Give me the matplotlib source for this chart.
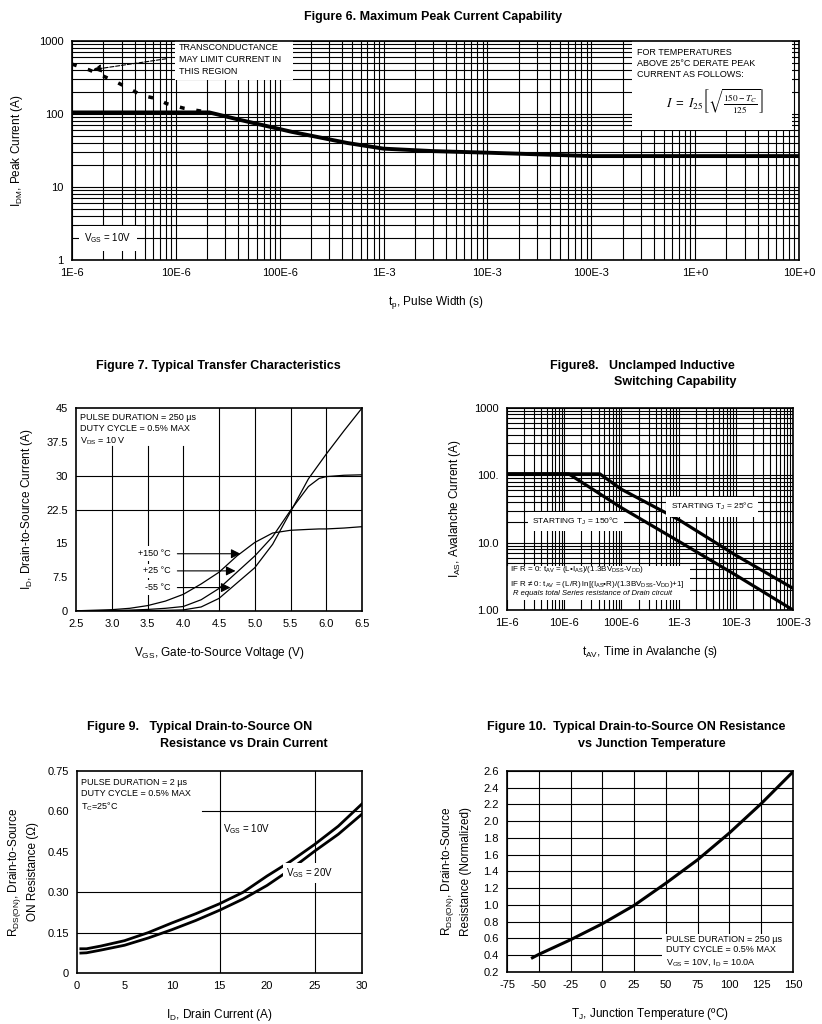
import matplotlib.pyplot as plt
from matplotlib.patches import Rectangle
from matplotlib.ticker import NullFormatter

plt.rcParams["font.family"] = ["Liberation Sans", "DejaVu Sans"]
plt.rcParams["mathtext.fontset"] = "stix"
plt.rcParams["mathtext.default"] = "regular"
plt.rcParams["axes.unicode_minus"] = False

# Figure 6 - maximum peak current
pulse_width = [1e-6, 2.1e-5, 4e-5, 1.3e-4, 4.5e-4, 1e-3, 3e-3, 1e-2, 1e-1, 10]
peak_current = [105, 105, 84, 57, 40, 33.5, 31, 29.5, 26.5, 26.5]
gm_width = [1.0e-6, 1.46e-6, 2.56e-6, 3.56e-6, 4.7e-6, 6.4e-6, 8.1e-6, 1.19e-5, 1.65e-5, 2.1e-5]
gm_current = [482, 402, 283, 222, 180, 163, 139, 120, 111, 105]
fig6_xticks = [1e-6, 1e-5, 1e-4, 1e-3, 1e-2, 1e-1, 1, 10]
fig6_xlabels = ["1E-6", "10E-6", "100E-6", "1E-3", "10E-3", "100E-3", "1E+0", "10E+0"]
fig6_yticks = [1, 10, 100, 1000]
fig6_ylabels = ["1", "10", "100", "1000"]

# Figure 7 - transfer characteristics
vgs = [2.5, 3.0, 3.25, 3.5, 3.75, 4.0, 4.25, 4.5, 4.75, 5.0, 5.25, 5.5, 5.75, 5.9, 6.0, 6.25, 6.5]
id_150 = [0.05, 0.3, 0.6, 1.2, 2.2, 3.7, 6.0, 8.6, 12.2, 15.2, 17.3, 17.9, 18.1, 18.2, 18.2, 18.4, 18.7]
id_25 = [0.0, 0.1, 0.2, 0.35, 0.6, 1.0, 2.5, 5.0, 8.6, 12.2, 16.5, 22.3, 27.6, 29.4, 29.8, 30.1, 30.2]
id_m55 = [0.0, 0.05, 0.07, 0.1, 0.15, 0.25, 0.9, 2.8, 6.2, 9.6, 14.8, 22.0, 29.3, 32.6, 34.8, 40.0, 45.0]
temp_labels = ["+150 \u00b0C", "+25 \u00b0C", "-55 \u00b0C"]
fig7_xticks = [2.5, 3.0, 3.5, 4.0, 4.5, 5.0, 5.5, 6.0, 6.5]
fig7_yticks = [0, 7.5, 15, 22.5, 30, 37.5, 45]
fig7_ylabels = ["0", "7.5", "15", "22.5", "30", "37.5", "45"]

# Figure 8 - unclamped inductive switching
tav_25 = [1e-6, 4.2e-5, 1e-4, 1e-3, 1e-2, 1e-1]
ias_25 = [105, 105, 62, 22, 6.5, 2.1]
tav_150 = [1e-6, 1.2e-5, 1e-4, 1e-3, 1e-2, 1e-1]
ias_150 = [105, 105, 33, 10.5, 3.3, 1.0]
fig8_xticks = [1e-6, 1e-5, 1e-4, 1e-3, 1e-2, 1e-1]
fig8_xlabels = ["1E-6", "10E-6", "100E-6", "1E-3", "10E-3", "100E-3"]
fig8_yticks = [1, 10, 100, 1000]
fig8_ylabels = ["1.00", "10.0", "100.", "1000"]

# Figure 9 - on resistance vs drain current
drain_current = [0.4, 1, 2.5, 5, 7.5, 10, 12.5, 15, 17.5, 20, 22.5, 25, 27.5, 30]
rds_10v = [0.090, 0.090, 0.100, 0.120, 0.150, 0.186, 0.220, 0.257, 0.300, 0.360, 0.415, 0.477, 0.545, 0.628]
rds_20v = [0.074, 0.075, 0.085, 0.103, 0.130, 0.161, 0.195, 0.233, 0.275, 0.325, 0.385, 0.452, 0.515, 0.590]
fig9_yticks = [0, 0.15, 0.30, 0.45, 0.60, 0.75]
fig9_ylabels = ["0", "0.15", "0.30", "0.45", "0.60", "0.75"]

# Figure 10 - on resistance vs junction temperature
tj = [-55, -50, -25, 0, 25, 50, 75, 100, 125, 150]
rds_norm = [0.37, 0.41, 0.585, 0.776, 0.995, 1.26, 1.54, 1.86, 2.21, 2.59]
fig10_xticks = [-75, -50, -25, 0, 25, 50, 75, 100, 125, 150]
fig10_yticks = [0.2, 0.4, 0.6, 0.8, 1.0, 1.2, 1.4, 1.6, 1.8, 2.0, 2.2, 2.4, 2.6]

GRID = dict(color="black", lw=0.8)
WHITE = dict(facecolor="white", edgecolor="none", pad=2)


def style_axes(ax):
    for spine in ax.spines.values():
        spine.set_linewidth(1.2)
    ax.tick_params(which="both", length=0, labelsize=8, pad=6)


def white_box(ax, x, y, w, h):
    ax.add_patch(Rectangle((x, y), w, h, transform=ax.transAxes,
                           facecolor="white", edgecolor="none", zorder=1.8))


fig = plt.figure(figsize=(8.22, 10.24), dpi=100)

# ---- Figure 6
ax6 = fig.add_axes([0.0876, 0.7461, 0.8844, 0.2139])
ax6.set_xscale("log")
ax6.set_yscale("log")
ax6.set_xlim(1e-6, 10)
ax6.set_ylim(1, 1000)
ax6.grid(True, which="both", **GRID)
ax6.set_xticks(fig6_xticks, fig6_xlabels)
ax6.set_yticks(fig6_yticks, fig6_ylabels)
ax6.xaxis.set_minor_formatter(NullFormatter())
ax6.yaxis.set_minor_formatter(NullFormatter())
style_axes(ax6)
ax6.plot(gm_width, gm_current, color="black", lw=2.5, ls=(0, (1.4, 3.4)), zorder=3)
ax6.plot(pulse_width, peak_current, color="black", lw=2.8, zorder=3)
white_box(ax6, 0.142, 0.822, 0.162, 0.178)
white_box(ax6, 0.770, 0.594, 0.220, 0.406)
ax6.text(0.147, 0.99, "TRANSCONDUCTANCE\nMAY LIMIT CURRENT IN\nTHIS REGION",
         transform=ax6.transAxes, fontsize=6.5, va="top", linespacing=1.4)
ax6.text(0.777, 0.968, "FOR TEMPERATURES\nABOVE 25\u00b0C DERATE PEAK\nCURRENT AS FOLLOWS:",
         transform=ax6.transAxes, fontsize=6.5, va="top", linespacing=1.3)
ax6.text(0.885, 0.723,
         r"$\mathit{I}\ =\ \mathit{I}_{\mathrm{25}}\left[\sqrt{\frac{\mathrm{150}-\mathit{T_C}}{\mathrm{125}}}\right]$",
         transform=ax6.transAxes, fontsize=9.5, ha="center", va="center")
ax6.annotate("", xy=(1.5e-6, 400), xytext=(8.6e-6, 578),
             arrowprops=dict(arrowstyle="-|>", color="black", lw=0.8, ls="--",
                             mutation_scale=12))
ax6.text(0.017, 0.1, "V$_{GS}$ = 10V", transform=ax6.transAxes, fontsize=7,
         va="center", bbox=dict(facecolor="white", edgecolor="none", pad=4))
ax6.set_xlabel("t$_p$, Pulse Width (s)", fontsize=8.5, labelpad=11)
ax6.set_ylabel("I$_{DM}$, Peak Current (A)", fontsize=8.5, labelpad=10)
fig.text(0.527, 0.983, "Figure 6. Maximum Peak Current Capability",
         fontsize=9, fontweight="bold", ha="center", va="center")

# ---- Figure 7
ax7 = fig.add_axes([0.0925, 0.4033, 0.3479, 0.1982])
ax7.set_xlim(2.5, 6.5)
ax7.set_ylim(0, 45)
ax7.set_xticks(fig7_xticks, [f"{v:.1f}" for v in fig7_xticks])
ax7.set_yticks(fig7_yticks, fig7_ylabels)
style_axes(ax7)
for v in [3.0, 3.5, 4.0]:
    ax7.axvline(v, ymax=36.5 / 45, zorder=1, **GRID)
for v in [4.5, 5.0, 5.5, 6.0]:
    ax7.axvline(v, zorder=1, **GRID)
for v in [22.5, 30]:
    ax7.axhline(v, zorder=1, **GRID)
ax7.plot(vgs, id_150, color="black", lw=0.9)
ax7.plot(vgs, id_25, color="black", lw=0.9)
ax7.plot(vgs, id_m55, color="black", lw=0.9)
ax7.text(0.015, 0.975, "PULSE DURATION = 250 \u00b5s\nDUTY CYCLE = 0.5% MAX\nV$_{DS}$ = 10 V",
         transform=ax7.transAxes, fontsize=6.5, va="top", linespacing=1.3)
for label, y, tip in zip(temp_labels, [12.7, 8.9, 5.2], [4.80, 4.73, 4.66]):
    ax7.annotate(label, xy=(tip, y), xytext=(3.82, y), fontsize=6.5, ha="right",
                 va="center", bbox=WHITE, zorder=4,
                 arrowprops=dict(arrowstyle="-|>", color="black", lw=0.8,
                                 mutation_scale=14, shrinkA=3, shrinkB=0))
ax7.set_xlabel("V$_{GS}$, Gate-to-Source Voltage (V)", fontsize=8.5, labelpad=11)
ax7.set_ylabel("I$_D$, Drain-to-Source Current (A)", fontsize=8.5, labelpad=8)
fig.text(0.266, 0.6426, "Figure 7. Typical Transfer Characteristics",
         fontsize=9, fontweight="bold", ha="center", va="center")

# ---- Figure 8
ax8 = fig.add_axes([0.6168, 0.4043, 0.3479, 0.1973])
ax8.set_xscale("log")
ax8.set_yscale("log")
ax8.set_xlim(1e-6, 1e-1)
ax8.set_ylim(1, 1000)
ax8.grid(True, which="both", **GRID)
ax8.set_xticks(fig8_xticks, fig8_xlabels)
ax8.set_yticks(fig8_yticks, fig8_ylabels)
ax8.xaxis.set_minor_formatter(NullFormatter())
ax8.yaxis.set_minor_formatter(NullFormatter())
style_axes(ax8)
ax8.plot(tav_25, ias_25, color="black", lw=2.3, zorder=3)
ax8.plot(tav_150, ias_150, color="black", lw=2.3, zorder=3)
ax8.text(0.717, 0.511, "STARTING T$_J$ = 25\u00b0C", transform=ax8.transAxes,
         fontsize=6, ha="center", va="center", bbox=dict(facecolor="white", edgecolor="none", pad=3))
ax8.text(0.242, 0.437, "STARTING T$_J$ = 150\u00b0C", transform=ax8.transAxes,
         fontsize=6, ha="center", va="center", bbox=dict(facecolor="white", edgecolor="none", pad=3))
white_box(ax8, 0.0, 0.05, 0.64, 0.17)
ax8.text(0.01, 0.165,
         "IF R = 0: t$_{AV}$ = (L\u2022I$_{AS}$)/(1.3BV$_{DSS}$-V$_{DD}$)\n"
         "IF R \u2260 0: t$_{AV}$ = (L/R) ln[(I$_{AS}$\u2022R)/(1.3BV$_{DSS}$-V$_{DD}$)+1]",
         transform=ax8.transAxes, fontsize=5.8, va="center", linespacing=1.4)
ax8.text(0.02, 0.08, "R equals total Series resistance of Drain circuit",
         transform=ax8.transAxes, fontsize=5.5, va="center", style="italic")
ax8.set_xlabel("t$_{AV}$, Time in Avalanche (s)", fontsize=8.5, labelpad=11)
ax8.set_ylabel("I$_{AS}$, Avalanche Current (A)", fontsize=8.5, labelpad=8)
fig.text(0.669, 0.6426, "Figure8.   Unclamped Inductive",
         fontsize=9, fontweight="bold", ha="left", va="center")
fig.text(0.747, 0.627, "Switching Capability",
         fontsize=9, fontweight="bold", ha="left", va="center")

# ---- Figure 9
ax9 = fig.add_axes([0.0937, 0.0498, 0.3467, 0.1973])
ax9.set_xlim(0, 30)
ax9.set_ylim(0, 0.75)
ax9.set_xticks([0, 5, 10, 15, 20, 25, 30])
ax9.set_yticks(fig9_yticks, fig9_ylabels)
style_axes(ax9)
for v in [15, 25]:
    ax9.axvline(v, zorder=1, **GRID)
for v in [0.15, 0.30]:
    ax9.axhline(v, zorder=1, **GRID)
ax9.axhline(0.60, xmin=13.2 / 30, zorder=1, **GRID)
ax9.plot(drain_current, rds_10v, color="black", lw=2.0)
ax9.plot(drain_current, rds_20v, color="black", lw=2.0)
ax9.text(0.015, 0.965, "PULSE DURATION = 2 \u00b5s\nDUTY CYCLE = 0.5% MAX\nT$_C$=25\u00b0C",
         transform=ax9.transAxes, fontsize=6.5, va="top", linespacing=1.3)
ax9.text(15.4, 0.535, "V$_{GS}$ = 10V", fontsize=7, va="center")
ax9.text(22.0, 0.372, "V$_{GS}$ = 20V", fontsize=7, va="center", bbox=WHITE, zorder=4)
ax9.set_xlabel("I$_D$, Drain Current (A)", fontsize=8.5, labelpad=11)
ax9.set_ylabel("R$_{DS(ON)}$, Drain-to-Source\nON Resistance (\u03a9)", fontsize=8.5,
               labelpad=6, linespacing=1.4)
fig.text(0.106, 0.290, "Figure 9.   Typical Drain-to-Source ON",
         fontsize=9, fontweight="bold", ha="left", va="center")
fig.text(0.195, 0.2734, "Resistance vs Drain Current",
         fontsize=9, fontweight="bold", ha="left", va="center")

# ---- Figure 10
ax10 = fig.add_axes([0.6168, 0.0508, 0.3479, 0.1963])
ax10.set_xlim(-75, 150)
ax10.set_ylim(0.2, 2.6)
ax10.set_xticks(fig10_xticks)
ax10.set_yticks(fig10_yticks, [f"{v:.1f}" for v in fig10_yticks])
ax10.grid(True, **GRID)
style_axes(ax10)
ax10.plot(tj, rds_norm, color="black", lw=2.2, zorder=3)
white_box(ax10, 0.542, 0.0, 0.458, 0.19)
ax10.text(0.555, 0.185, "PULSE DURATION = 250 \u00b5s\nDUTY CYCLE = 0.5% MAX\nV$_{GS}$ = 10V, I$_D$ = 10.0A",
          transform=ax10.transAxes, fontsize=6.5, va="top", linespacing=1.2, zorder=3)
ax10.set_xlabel("T$_J$, Junction Temperature (\u00baC)", fontsize=8.5, labelpad=11)
ax10.set_ylabel("R$_{DS(ON)}$, Drain-to-Source\nResistance (Normalized)", fontsize=8.5,
                labelpad=8, linespacing=1.4)
fig.text(0.5925, 0.290, "Figure 10.  Typical Drain-to-Source ON Resistance",
         fontsize=9, fontweight="bold", ha="left", va="center")
fig.text(0.703, 0.2734, "vs Junction Temperature",
         fontsize=9, fontweight="bold", ha="left", va="center")

fig.savefig("out.png", dpi=100, facecolor="white")
